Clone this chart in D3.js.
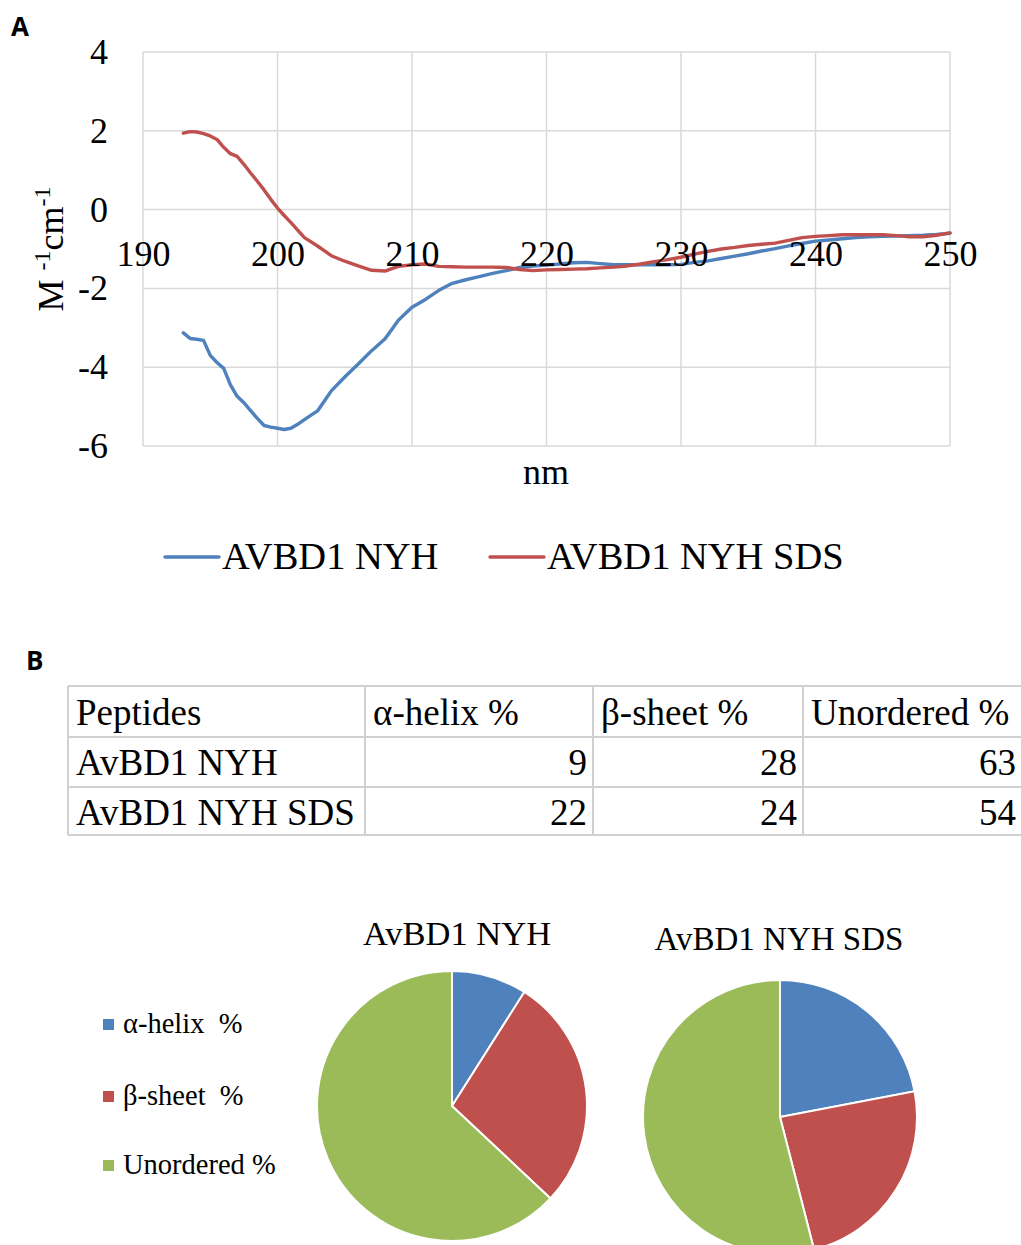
<!DOCTYPE html>
<html>
<head>
<meta charset="utf-8">
<script src="https://cdn.jsdelivr.net/npm/d3@7"></script>
<style>
  html, body { margin: 0; padding: 0; background: #fff; }
  svg { display: block; }
  text { font-family: "Liberation Serif", "Times New Roman", serif; fill: #000; }
  .panel { font-family: "Open Sans", "DejaVu Sans", sans-serif; font-weight: 700; }
</style>
</head>
<body>
<svg id="fig" width="1021" height="1245"></svg>
<script>
// ---- CD spectra (wavelength in nm, ellipticity in M-1 cm-1) ----
const nyhWavelength = [193,193.5,194,194.5,195,195.5,196,196.5,197,197.5,198,198.5,199,199.5,200,200.5,201,201.5,202,203,203.5,204,205,206,207,208,209,210,211,212,213,214,215,216,217,218,219,220,221,222,223,224,225,226,227,228,229,230,231,232,233,234,235,236,237,238,239,240,241,242,243,244,245,246,247,248,249,250];
const nyhValues = [-3.13,-3.27,-3.29,-3.32,-3.70,-3.88,-4.03,-4.45,-4.74,-4.90,-5.10,-5.30,-5.48,-5.52,-5.55,-5.58,-5.55,-5.45,-5.33,-5.10,-4.85,-4.60,-4.25,-3.92,-3.58,-3.28,-2.80,-2.48,-2.28,-2.05,-1.87,-1.78,-1.70,-1.62,-1.55,-1.47,-1.43,-1.41,-1.38,-1.35,-1.34,-1.37,-1.40,-1.40,-1.40,-1.40,-1.40,-1.39,-1.34,-1.30,-1.24,-1.18,-1.12,-1.05,-0.99,-0.92,-0.86,-0.80,-0.77,-0.74,-0.71,-0.69,-0.68,-0.67,-0.66,-0.65,-0.63,-0.60];

const sdsWavelength = [193,193.5,194,194.5,195,195.5,196,196.5,197,197.5,198,198.5,199,199.5,200,200.5,201,201.5,202,202.5,203,203.5,204,205,206,207,208,208.5,209,210,211,212,213,214,215,216,217,218,219,220,221,222,223,224,225,226,227,228,229,230,231,232,233,234,235,236,237,238,239,240,241,242,243,244,245,246,247,248,249,250];
const sdsValues = [1.94,1.98,1.97,1.93,1.87,1.78,1.58,1.42,1.35,1.15,0.93,0.72,0.50,0.26,0.04,-0.15,-0.33,-0.52,-0.71,-0.82,-0.93,-1.05,-1.17,-1.31,-1.43,-1.54,-1.56,-1.50,-1.44,-1.40,-1.38,-1.44,-1.45,-1.46,-1.46,-1.46,-1.47,-1.52,-1.55,-1.53,-1.52,-1.51,-1.50,-1.48,-1.46,-1.43,-1.38,-1.32,-1.27,-1.21,-1.13,-1.06,-1.00,-0.96,-0.91,-0.88,-0.85,-0.78,-0.71,-0.68,-0.66,-0.64,-0.64,-0.64,-0.64,-0.66,-0.69,-0.69,-0.65,-0.59];

const seriesNames = ["AVBD1 NYH", "AVBD1 NYH SDS"];
const xTicks = [190, 200, 210, 220, 230, 240, 250];
const yTicks = [4, 2, 0, -2, -4, -6];

// ---- secondary structure content (%) ----
const tableHeader = ["Peptides", "\u03b1-helix %", "\u03b2-sheet %", "Unordered %"];
const peptides = ["AvBD1 NYH", "AvBD1 NYH SDS"];
const helixPct = [9, 22];
const sheetPct = [28, 24];
const unorderedPct = [63, 54];
const pieLegend = ["\u03b1-helix  %", "\u03b2-sheet  %", "Unordered %"];

const blue = "#4F81BD", red = "#C0504D", green = "#9BBB59", grid = "#d9d9d9";

const svg = d3.select("#fig");

// ================= Panel A =================
svg.append("text").attr("class", "panel").attr("x", 11).attr("y", 36)
  .attr("font-size", 26).text("A");

const plot = { left: 143, top: 52, right: 950, bottom: 446 };
const x = d3.scaleLinear().domain([190, 250]).range([plot.left, plot.right]);
const y = d3.scaleLinear().domain([-6, 4]).range([plot.bottom, plot.top]);

// grid
const g = svg.append("g");
g.selectAll("line.v").data(xTicks).join("line")
  .attr("x1", d => x(d)).attr("x2", d => x(d))
  .attr("y1", plot.top).attr("y2", plot.bottom)
  .attr("stroke", grid).attr("stroke-width", 1.5);
g.selectAll("line.h").data(yTicks).join("line")
  .attr("y1", d => y(d)).attr("y2", d => y(d))
  .attr("x1", plot.left).attr("x2", plot.right)
  .attr("stroke", grid).attr("stroke-width", 1.5);

// y axis labels (plain hyphen for negatives)
const yAxis = svg.append("g").attr("transform", `translate(${plot.left},0)`)
  .call(d3.axisLeft(y).tickValues(yTicks).tickFormat(d => String(d)).tickSize(0).tickPadding(35));
yAxis.select(".domain").remove();
yAxis.selectAll("text").attr("font-size", 36)
  .attr("font-family", '"Liberation Serif", "Times New Roman", serif').attr("fill", "#000");

// series
const line = d3.line().x(d => x(d[0])).y(d => y(d[1]));
const nyh = nyhWavelength.map((w, i) => [w, nyhValues[i]]);
const sds = sdsWavelength.map((w, i) => [w, sdsValues[i]]);
svg.append("path").datum(nyh).attr("d", line).attr("fill", "none")
  .attr("stroke", blue).attr("stroke-width", 3.4).attr("stroke-linejoin", "round").attr("stroke-linecap", "round");
svg.append("path").datum(sds).attr("d", line).attr("fill", "none")
  .attr("stroke", red).attr("stroke-width", 3.4).attr("stroke-linejoin", "round").attr("stroke-linecap", "round");

// x axis labels, sitting on the zero line
const xAxis = svg.append("g").attr("transform", `translate(0,${y(0)})`)
  .call(d3.axisBottom(x).tickValues(xTicks).tickFormat(d => String(d)).tickSize(0).tickPadding(31));
xAxis.select(".domain").remove();
xAxis.selectAll("text").attr("font-size", 36)
  .attr("font-family", '"Liberation Serif", "Times New Roman", serif').attr("fill", "#000");

// axis titles
const yTitle = svg.append("text")
  .attr("transform", `translate(63,${(plot.top + plot.bottom) / 2}) rotate(-90)`)
  .attr("text-anchor", "middle").attr("font-size", 36);
yTitle.append("tspan").text("M ");
yTitle.append("tspan").attr("font-size", 24).attr("dy", -13).text("-1");
yTitle.append("tspan").attr("dy", 13).text("cm");
yTitle.append("tspan").attr("font-size", 24).attr("dy", -13).text("-1");

svg.append("text").attr("x", 546).attr("y", 484).attr("text-anchor", "middle")
  .attr("font-size", 36).text("nm");

// legend
const legendItems = [
  { name: seriesNames[0], color: blue, x0: 165 },
  { name: seriesNames[1], color: red, x0: 490 }
];
const lg = svg.append("g").selectAll("g").data(legendItems).join("g");
lg.append("line").attr("x1", d => d.x0).attr("x2", d => d.x0 + 54)
  .attr("y1", 557).attr("y2", 557).attr("stroke", d => d.color).attr("stroke-width", 3.4)
  .attr("stroke-linecap", "round");
lg.append("text").attr("x", d => d.x0 + 57).attr("y", 569).attr("font-size", 38.5).text(d => d.name);

// ================= Panel B =================
svg.append("text").attr("class", "panel").attr("x", 26).attr("y", 670)
  .attr("font-size", 26).text("B");

// table
const colEdges = [68, 365, 593, 803, 1030];
const rowEdges = [686, 737, 787, 835];
const tableRows = peptides.map((p, i) => [p, helixPct[i], sheetPct[i], unorderedPct[i]]);
const tg = svg.append("g");
tg.selectAll("line.r").data(rowEdges).join("line")
  .attr("x1", colEdges[0]).attr("x2", 1021).attr("y1", d => d).attr("y2", d => d)
  .attr("stroke", "#d0d0d0").attr("stroke-width", 2);
tg.selectAll("line.c").data(colEdges.slice(0, 4)).join("line")
  .attr("x1", d => d).attr("x2", d => d).attr("y1", rowEdges[0]).attr("y2", rowEdges[3])
  .attr("stroke", "#d0d0d0").attr("stroke-width", 2);
tg.selectAll("text.h").data(tableHeader).join("text")
  .attr("x", (d, i) => colEdges[i] + 8).attr("y", rowEdges[0] + 39)
  .attr("font-size", 37).text(d => d);
tableRows.forEach((row, r) => {
  row.forEach((cell, c) => {
    tg.append("text")
      .attr("x", c === 0 ? colEdges[0] + 8 : (c === 3 ? 1016 : colEdges[c + 1] - 6))
      .attr("y", rowEdges[r + 1] + 38)
      .attr("text-anchor", c === 0 ? "start" : "end")
      .attr("font-size", 37).text(cell);
  });
});

// pie charts
const pieColors = [blue, red, green];
const pie = d3.pie().sort(null).value(d => d);
const pies = [
  { title: peptides[0], values: [helixPct[0], sheetPct[0], unorderedPct[0]], cx: 452, cy: 1106, r: 135, tx: 457, ty: 945, fs: 34.5 },
  { title: peptides[1], values: [helixPct[1], sheetPct[1], unorderedPct[1]], cx: 780, cy: 1117, r: 137, tx: 779, ty: 950, fs: 33 }
];
pies.forEach(p => {
  const arc = d3.arc().innerRadius(0).outerRadius(p.r);
  const pg = svg.append("g").attr("transform", `translate(${p.cx},${p.cy})`);
  pg.selectAll("path").data(pie(p.values)).join("path")
    .attr("d", arc).attr("fill", (d, i) => pieColors[i])
    .attr("stroke", "#fff").attr("stroke-width", 2);
  svg.append("text").attr("x", p.tx).attr("y", p.ty).attr("text-anchor", "middle")
    .attr("font-size", p.fs).text(p.title);
});

// pie legend
const legendY = [1024, 1096, 1165];
const pl = svg.append("g").selectAll("g").data(pieLegend).join("g");
pl.append("rect").attr("x", 103).attr("y", (d, i) => legendY[i] - 5)
  .attr("width", 11).attr("height", 11).attr("fill", (d, i) => pieColors[i]);
pl.append("text").attr("x", 123).attr("y", (d, i) => legendY[i] + 9)
  .attr("font-size", 28.5).attr("xml:space", "preserve").style("white-space", "pre")
  .text(d => d);
</script>
</body>
</html>
